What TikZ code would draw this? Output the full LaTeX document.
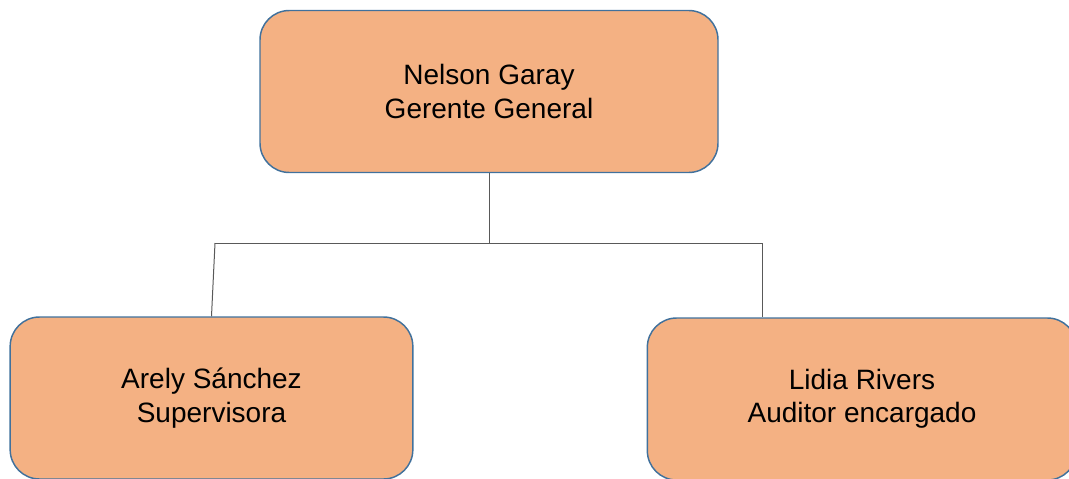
\documentclass[tikz,border=0pt]{standalone}
\usepackage{fontspec}
\setmainfont{Liberation Sans}
\usetikzlibrary{positioning}

\definecolor{cajafondo}{HTML}{F4B183}
\definecolor{cajaborde}{HTML}{41719C}

\begin{document}
\begin{tikzpicture}[x=0.75pt, y=-0.75pt,
puesto/.style={draw=cajaborde, line width=1.1pt, fill=cajafondo,
  rounded corners=22pt, align=center, inner sep=0pt,
  font=\fontsize{21}{25}\selectfont},
enlace/.style={draw=black!65, line width=0.75pt}]

\def\bus{243}	% altura de la linea horizontal
\useasboundingbox (0,0) rectangle (1069,478);
\path[clip] (0,0) rectangle (1069,478);

% Cajas
\node[puesto, minimum width=343.5pt, minimum height=121.5pt] (gerente) at (489,91.5)
  {Nelson Garay\\Gerente General};
\node[puesto, minimum width=302pt, minimum height=121.5pt] (supervisora) at (211.5,398)
  {Arely Sánchez\\Supervisora};
\node[puesto, minimum width=322pt, minimum height=121.5pt] (auditor) at (862,399)
  {Lidia Rivers\\Auditor encargado};

% Conectores
\coordinate (busL) at (215,\bus);
\coordinate (busR) at (762,\bus);
\draw[enlace] (gerente.south) -- (gerente.south |- busL);
\draw[enlace] (busL) -- (busR);
\draw[enlace] (busL) -- (supervisora.north);
\draw[enlace] (busR) -- (busR |- auditor.north);

\end{tikzpicture}
\end{document}
